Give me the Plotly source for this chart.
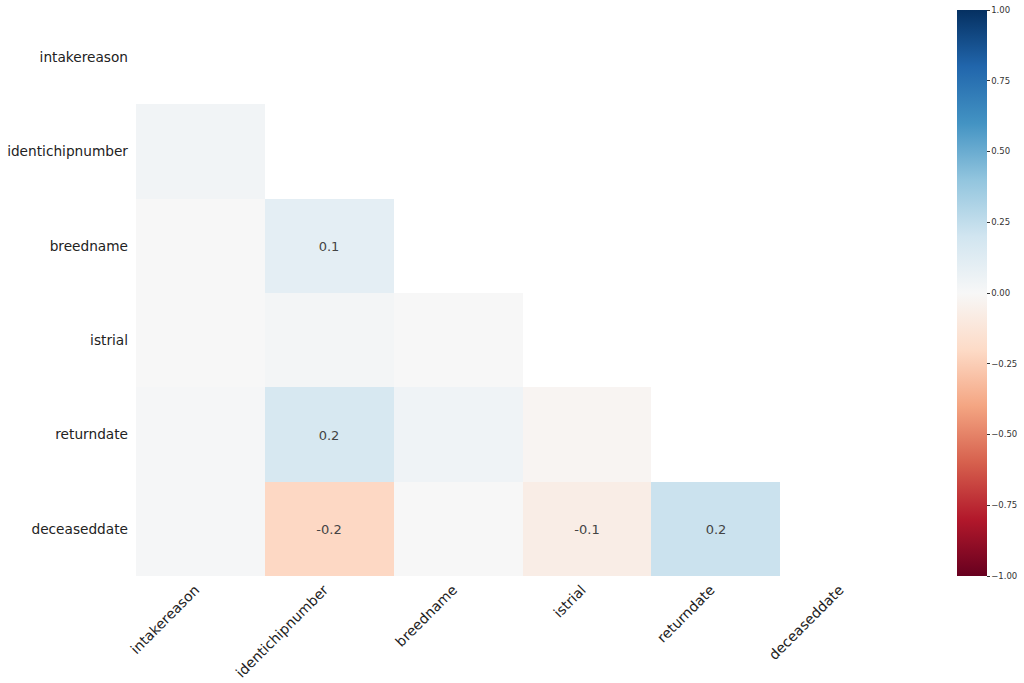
import plotly.graph_objects as go

labels = ["intakereason", "identichipnumber", "breedname", "istrial", "returndate", "deceaseddate"]

# lower-triangle nullity correlations (row i, columns 0..i-1)
row_identichipnumber = [0.03]
row_breedname = [0.0, 0.1]
row_istrial = [0.0, 0.02, 0.0]
row_returndate = [0.01, 0.17, 0.04, -0.02]
row_deceaseddate = [0.01, -0.21, 0.0, -0.07, 0.22]

rows = [[], row_identichipnumber, row_breedname, row_istrial, row_returndate, row_deceaseddate]

rdbu = ['rgb(103,0,31)', 'rgb(178,24,43)', 'rgb(214,96,77)', 'rgb(244,165,130)',
        'rgb(253,219,199)', 'rgb(247,247,247)', 'rgb(209,229,240)', 'rgb(146,197,222)',
        'rgb(67,147,195)', 'rgb(33,102,172)', 'rgb(5,48,97)']
colorscale = [[i / 10, c] for i, c in enumerate(rdbu)]

n = len(labels)
z = []
text = []
for i in range(n):
    zr, tr = [], []
    for j in range(n):
        if j < i:
            v = rows[i][j]
            zr.append(v)
            s = f"{v:.1f}"
            tr.append("" if s in ("0.0", "-0.0") else s)
        else:
            zr.append(None)
            tr.append("")
    z.append(zr)
    text.append(tr)

fig = go.Figure(go.Heatmap(
    z=z, x=labels, y=labels, text=text, texttemplate="%{text}",
    textfont=dict(size=13, color="#444444", family="DejaVu Sans"),
    colorscale=colorscale, zmin=-1, zmax=1, hoverongaps=False,
    colorbar=dict(
        thickness=30, len=1, lenmode="fraction", x=1.062, xanchor="left", xpad=0,
        y=0.5, yanchor="middle", ypad=0, outlinewidth=0,
        tickvals=[-1, -0.75, -0.5, -0.25, 0, 0.25, 0.5, 0.75, 1],
        ticktext=["\u22121.00", "\u22120.75", "\u22120.50", "\u22120.25", "0.00", "0.25", "0.50", "0.75", "1.00"],
        ticks="outside", ticklen=3, tickcolor="#333",
        tickfont=dict(size=8.5, color="#333", family="DejaVu Sans"),
    ),
))

fig.update_layout(
    width=1024, height=683,
    margin=dict(l=136, r=115, t=10, b=107, autoexpand=False),
    paper_bgcolor="white", plot_bgcolor="white",
    font=dict(family="DejaVu Sans", color="#222"),
    xaxis=dict(tickangle=-45, showgrid=False, zeroline=False, ticks="", automargin=False,
               tickfont=dict(size=14, color="#222"), ticklabelstandoff=2, ticklabelshift=-5),
    yaxis=dict(autorange="reversed", showgrid=False, zeroline=False, ticks="", automargin=False,
               tickfont=dict(size=13.7, color="#222"), ticklabelstandoff=7),
)

fig.write_html("out.html")
